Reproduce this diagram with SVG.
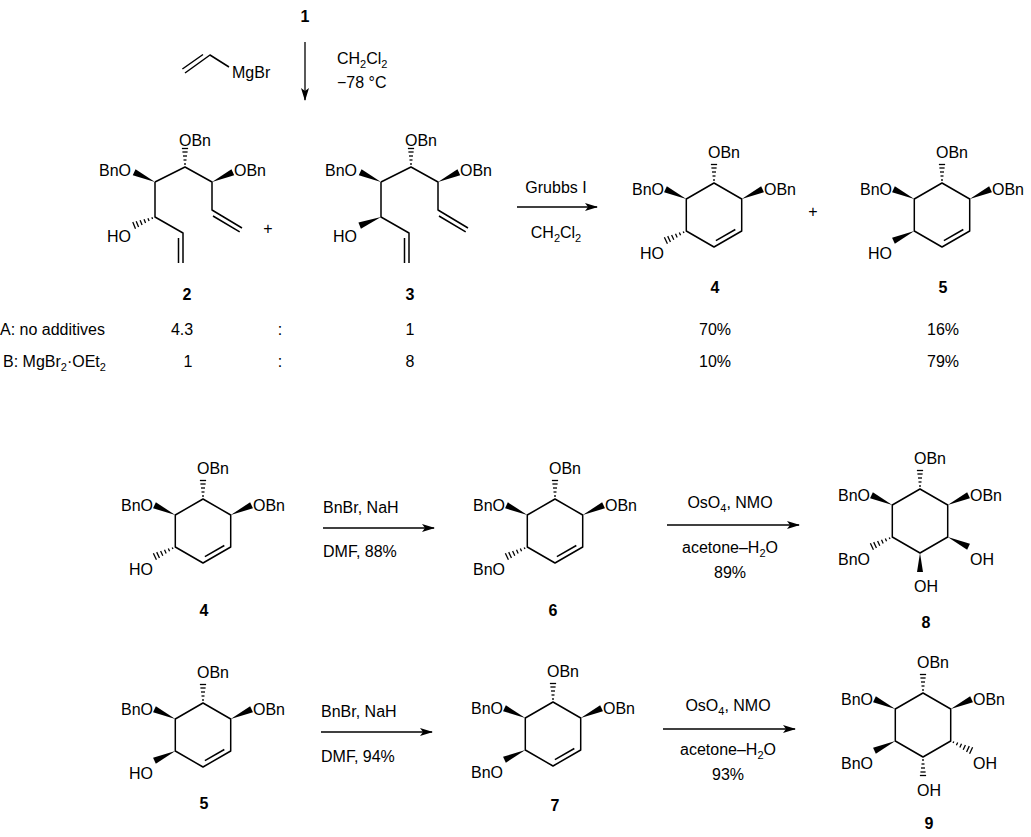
<svg xmlns="http://www.w3.org/2000/svg" xmlns:xlink="http://www.w3.org/1999/xlink" width="1031" height="837" viewBox="0 0 1031 837">
<style>
text{font-family:"Liberation Sans",Arial,sans-serif;font-size:16px;fill:#000}
.lb{font-weight:bold}
.m{text-anchor:middle}
.e{text-anchor:end}
.b{fill:none;stroke:#000;stroke-width:1.5;stroke-linejoin:round}
.h line{stroke:#000;stroke-width:1.3}
.a{stroke:#000;stroke-width:1.3;fill:none}
</style>
<defs>
<marker id="ah" markerUnits="userSpaceOnUse" markerWidth="14" markerHeight="10" refX="12" refY="4" orient="auto"><path d="M0,0 L13,4 L0,8 L3,4 Z" fill="#000"/></marker>
<polygon id="W" points="0,0 23,-3.3 23,3.3" fill="#000"/>
<polygon id="Wt" points="0,0 19,-3 19,3" fill="#000"/>
<g id="H" class="h"><line x1="3" y1="-0.9" x2="3" y2="0.9"/><line x1="7" y1="-1.5" x2="7" y2="1.5"/><line x1="11" y1="-2" x2="11" y2="2"/><line x1="15" y1="-2.6" x2="15" y2="2.6"/><line x1="19" y1="-3.2" x2="19" y2="3.2"/><line x1="22.5" y1="-3.6" x2="22.5" y2="3.6"/></g>
<g id="Ht" class="h"><line x1="3" y1="-0.9" x2="3" y2="0.9"/><line x1="7" y1="-1.5" x2="7" y2="1.5"/><line x1="11" y1="-2" x2="11" y2="2"/><line x1="15" y1="-2.6" x2="15" y2="2.6"/><line x1="18.5" y1="-3.1" x2="18.5" y2="3.1"/></g>
<g id="ringTop">
<path class="b" d="M0,-32 L27.7,-16 L27.7,16 L0,32 L-27.7,16 L-27.7,-16 Z"/>
<use xlink:href="#Ht" href="#Ht" transform="translate(0,-32) rotate(-90)"/>
<use xlink:href="#W" href="#W" transform="translate(-27.7,-16) rotate(-155)"/>
<use xlink:href="#W" href="#W" transform="translate(27.7,-16) rotate(-25)"/>
<text x="-6" y="-57">OBn</text>
<text class="e" x="-50" y="-20">BnO</text>
<text x="50" y="-20">OBn</text>
</g>
<line id="ene" class="b" x1="1.9" y1="25.7" x2="21.3" y2="14.5"/>
</defs>

<g id="reagent1">
<text class="lb m" x="305" y="22">1</text>
<path class="b" d="M185,73 L210,55 L229,67 M182.4,69 L203,54.5"/>
<text x="232" y="78">MgBr</text>
<text x="337" y="64">CH<tspan font-size="11" dy="4">2</tspan><tspan dy="-4">Cl</tspan><tspan font-size="11" dy="4">2</tspan></text>
<text x="337" y="88">−78 °C</text>
</g>

<g id="node2">
<path class="b" d="M155,182 L185,167 L212,182 L212,210 L242,228 M155,182 L155,217 L183,233 L183,263 M213,216 L239.7,231.9 M178.5,238 L178.5,263"/>
<use href="#W" transform="translate(155,182) rotate(-155)"/>
<use href="#Ht" transform="translate(185,167) rotate(-90)"/>
<use href="#W" transform="translate(212,182) rotate(-25)"/>
<use href="#H" transform="translate(155,217) rotate(158)"/>
<text class="e" x="131" y="176">BnO</text>
<text x="179" y="146">OBn</text>
<text x="234" y="176">OBn</text>
<text class="e" x="131" y="242">HO</text>
<text class="lb m" x="187" y="300">2</text>
</g>
<text class="m" x="268" y="234" font-size="14">+</text>
<g id="node3">
<path class="b" d="M381,182 L411,167 L438,182 L438,210 L468,228 M381,182 L381,217 L409,233 L409,263 M439,216 L465.7,231.9 M404.5,238 L404.5,263"/>
<use href="#W" transform="translate(381,182) rotate(-155)"/>
<use href="#Ht" transform="translate(411,167) rotate(-90)"/>
<use href="#W" transform="translate(438,182) rotate(-25)"/>
<use href="#W" transform="translate(381,217) rotate(158)"/>
<text class="e" x="357" y="176">BnO</text>
<text x="405" y="146">OBn</text>
<text x="460" y="176">OBn</text>
<text class="e" x="357" y="242">HO</text>
<text class="lb m" x="410" y="300">3</text>
</g>

<g id="node4a" transform="translate(714,215)">
<use href="#ringTop"/><use href="#ene"/>
<use href="#H" transform="translate(-27.7,16) rotate(155)"/>
<text class="e" x="-50" y="44">HO</text>
<text class="lb m" x="1" y="78">4</text>
</g>
<text class="m" x="813" y="217" font-size="14">+</text>
<g id="node5a" transform="translate(942,215)">
<use href="#ringTop"/><use href="#ene"/>
<use href="#W" transform="translate(-27.7,16) rotate(155)"/>
<text class="e" x="-50" y="44">HO</text>
<text class="lb m" x="1" y="78">5</text>
</g>

<g id="table">
<text x="0" y="335">A: no additives</text>
<text class="m" x="182" y="335">4.3</text>
<text class="m" x="280" y="335">:</text>
<text class="m" x="410" y="335">1</text>
<text class="m" x="715" y="335">70%</text>
<text class="m" x="943" y="335">16%</text>
<text x="3" y="367">B: MgBr<tspan font-size="11" dy="4">2</tspan><tspan dy="-4">·OEt</tspan><tspan font-size="11" dy="4">2</tspan></text>
<text class="m" x="188" y="367">1</text>
<text class="m" x="280" y="367">:</text>
<text class="m" x="410" y="367">8</text>
<text class="m" x="715" y="367">10%</text>
<text class="m" x="943" y="367">79%</text>
</g>

<g id="node4b" transform="translate(203,531)">
<use href="#ringTop"/><use href="#ene"/>
<use href="#H" transform="translate(-27.7,16) rotate(155)"/>
<text class="e" x="-50" y="44">HO</text>
<text class="lb m" x="1" y="85">4</text>
</g>
<g id="node6" transform="translate(555,531)">
<use href="#ringTop"/><use href="#ene"/>
<use href="#H" transform="translate(-27.7,16) rotate(155)"/>
<text class="e" x="-50" y="44">BnO</text>
<text class="lb m" x="-2" y="85">6</text>
</g>
<g id="node8" transform="translate(920,521)">
<use href="#ringTop"/>
<use href="#H" transform="translate(-27.7,16) rotate(155)"/>
<use href="#W" transform="translate(27.7,16) rotate(25)"/>
<use href="#Wt" transform="translate(0,32) rotate(90)"/>
<text class="e" x="-50" y="44">BnO</text>
<text x="50" y="44">OH</text>
<text x="-6" y="71">OH</text>
<text class="lb m" x="6" y="107">8</text>
</g>
<g id="node5b" transform="translate(203,735)">
<use href="#ringTop"/><use href="#ene"/>
<use href="#W" transform="translate(-27.7,16) rotate(155)"/>
<text class="e" x="-50" y="44">HO</text>
<text class="lb m" x="1" y="74">5</text>
</g>
<g id="node7" transform="translate(553,734)">
<use href="#ringTop"/><use href="#ene"/>
<use href="#W" transform="translate(-27.7,16) rotate(155)"/>
<text class="e" x="-50" y="44">BnO</text>
<text class="lb m" x="2" y="77">7</text>
</g>
<g id="node9" transform="translate(923,725)">
<use href="#ringTop"/>
<use href="#W" transform="translate(-27.7,16) rotate(155)"/>
<use href="#H" transform="translate(27.7,16) rotate(25)"/>
<use href="#Ht" transform="translate(0,32) rotate(90)"/>
<text class="e" x="-50" y="44">BnO</text>
<text x="50" y="44">OH</text>
<text x="-6" y="71">OH</text>
<text class="lb m" x="6" y="104">9</text>
</g>

<g id="connectors">
<line class="a" x1="305" y1="42" x2="305" y2="100" marker-end="url(#ah)"/>
<line class="a" x1="517" y1="207" x2="597" y2="207" marker-end="url(#ah)"/>
<line class="a" x1="323" y1="528" x2="434" y2="528" marker-end="url(#ah)"/>
<line class="a" x1="321" y1="732" x2="432" y2="732" marker-end="url(#ah)"/>
<line class="a" x1="667" y1="525" x2="799" y2="525" marker-end="url(#ah)"/>
<line class="a" x1="663" y1="729" x2="795" y2="729" marker-end="url(#ah)"/>
</g>
<g id="conditions">
<text class="m" x="556" y="193">Grubbs I</text>
<text class="m" x="556" y="238">CH<tspan font-size="11" dy="4">2</tspan><tspan dy="-4">Cl</tspan><tspan font-size="11" dy="4">2</tspan></text>
<text x="323" y="513">BnBr, NaH</text>
<text x="323" y="557">DMF, 88%</text>
<text x="321" y="717">BnBr, NaH</text>
<text x="321" y="762">DMF, 94%</text>
<text class="m" x="730" y="508">OsO<tspan font-size="11" dy="4">4</tspan><tspan dy="-4">, NMO</tspan></text>
<text class="m" x="730" y="553">acetone–H<tspan font-size="11" dy="4">2</tspan><tspan dy="-4">O</tspan></text>
<text class="m" x="730" y="578">89%</text>
<text class="m" x="728" y="711">OsO<tspan font-size="11" dy="4">4</tspan><tspan dy="-4">, NMO</tspan></text>
<text class="m" x="728" y="755">acetone–H<tspan font-size="11" dy="4">2</tspan><tspan dy="-4">O</tspan></text>
<text class="m" x="728" y="780">93%</text>
</g>
</svg>
